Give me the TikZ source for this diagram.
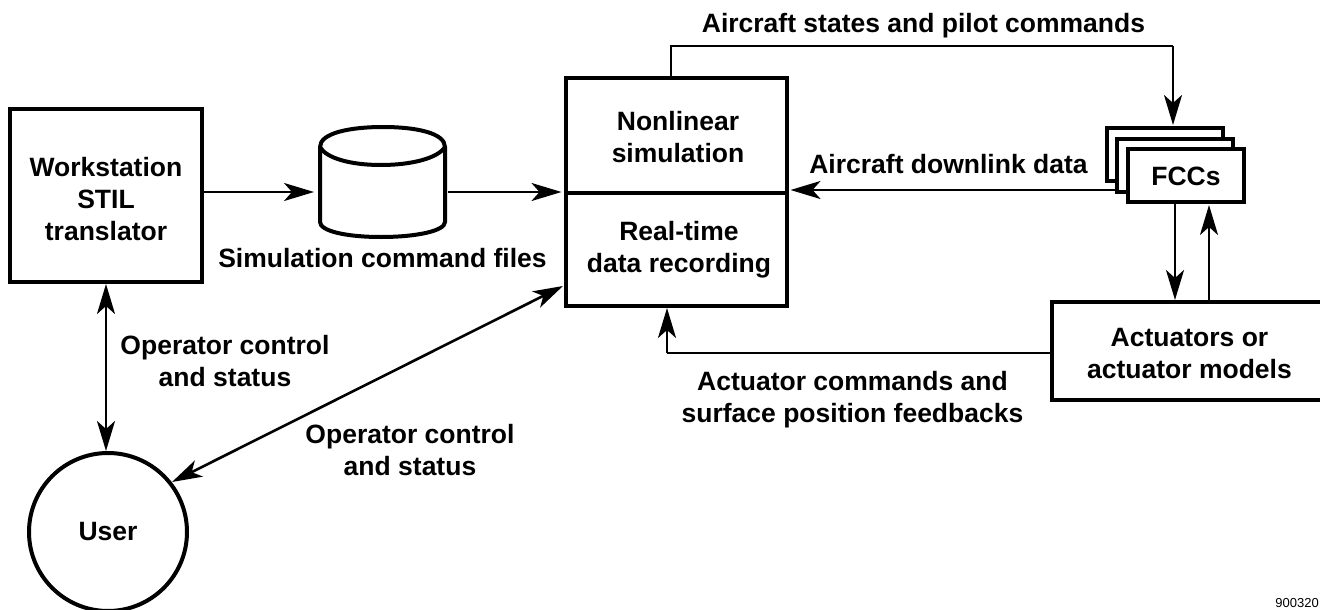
\documentclass[tikz,border=0pt]{standalone}
\usepackage{fontspec}
\setmainfont{Liberation Sans}
\usetikzlibrary{arrows.meta}
\tikzset{
 x=1pt,y=-1pt,
 box/.style={draw=black,line width=4pt,fill=white,inner sep=0pt,sharp corners},
 conn/.style={line width=2.6pt,draw=black,-{Stealth[length=30pt,width=18pt,inset=8pt]},shorten >=2pt},
 both/.style={line width=2.6pt,draw=black,{Stealth[length=30pt,width=18pt,inset=8pt]}-{Stealth[length=30pt,width=18pt,inset=8pt]}},
 lab/.style={font=\fontsize{26.5}{32}\selectfont\bfseries,align=center,inner sep=0pt,text=black},
}
\begin{document}
\begin{tikzpicture}
\useasboundingbox (0,0) rectangle (1320,610);
\fill[white] (0,0) rectangle (1320,610);
% workstation
\node[box,minimum width=192pt,minimum height=173pt] (ws) at (106,195.5) {};
\node[lab] at (106,199.5) {Workstation\\STIL\\translator};
% user
\node[box,circle,minimum size=158pt] (user) at (108,532) {};
\node[lab] at (user.center) {User};
% cylinder
\coordinate (cylW) at (316,192);
\coordinate (cylE) at (448,192);
\draw[line width=4pt,fill=white] (320,147) .. controls (320,133) and (350,127) .. (383,127) .. controls (416,127) and (445,133) .. (445,147)
  -- (445,222) .. controls (445,231) and (416,237) .. (381,237) .. controls (346,237) and (320,231) .. (320,222) -- cycle;
\draw[line width=4pt] (320,147) .. controls (326,158) and (350,165) .. (381,165) .. controls (412,165) and (438,158) .. (445,147);
\node[lab] at (382.5,258) {Simulation command files};
% sim
\node[box,minimum width=221pt,minimum height=227pt] (sim) at (676,192) {};
\coordinate (divy) at (0,193);
\draw[line width=4pt] (sim.west |- divy) -- (sim.east |- divy);
\node[lab] at (678,137) {Nonlinear\\simulation};
\node[lab] at (679,250) {Real-time\\data recording};
% FCC
\node[box,minimum width=116pt,minimum height=53pt] (fccc) at (1165,154) {};
\node[box,minimum width=116pt,minimum height=53pt] (fccb) at (1175,165) {};
\node[box,minimum width=116pt,minimum height=53pt] (fcc) at (1186,175) {};
\node[lab] at (1186,176) {FCCs};
% actuators
\node[box,minimum width=290pt,minimum height=98pt] (act) at (1197,351) {};
\node[lab] at (1189.5,353.5) {Actuators or\\actuator models};
% connectors
\draw[conn] (ws.east |- cylW) -- (cylW);
\draw[conn] (cylE) -- (sim.west |- cylE);
\coordinate (tr) at (1173,46);
\draw[line width=2.6pt] (671,78) -- (671,46) -- (tr);
\draw[conn] (tr) -- (1173,127);
\coordinate (dly) at (0,190);
\draw[conn] (fccb.west |- dly) -- (sim.east |- dly);
\draw[conn] (1175,203) -- (1175,302);
\draw[conn] (1209,302) -- (1209,203);
\coordinate (bl) at (667,353);
\draw[line width=2.6pt] (act.west |- bl) -- (bl);
\draw[conn] (bl) -- (667,306);
\draw[both] (106,284) -- (106,451);
\draw[both] (563,286) -- (172,482);
% labels
\node[lab] at (923.5,26) {Aircraft states and pilot commands};
\node[lab] at (948.5,164) {Aircraft downlink data};
\node[lab] at (225,361) {Operator control\\and status};
\node[lab] at (410,450) {Operator control\\and status};
\node[lab] at (852.5,400) {Actuator commands and\\surface position feedbacks};
\node[font=\fontsize{13}{15}\selectfont,anchor=east,inner sep=0pt] at (1319,603) {900320};
\end{tikzpicture}
\end{document}
